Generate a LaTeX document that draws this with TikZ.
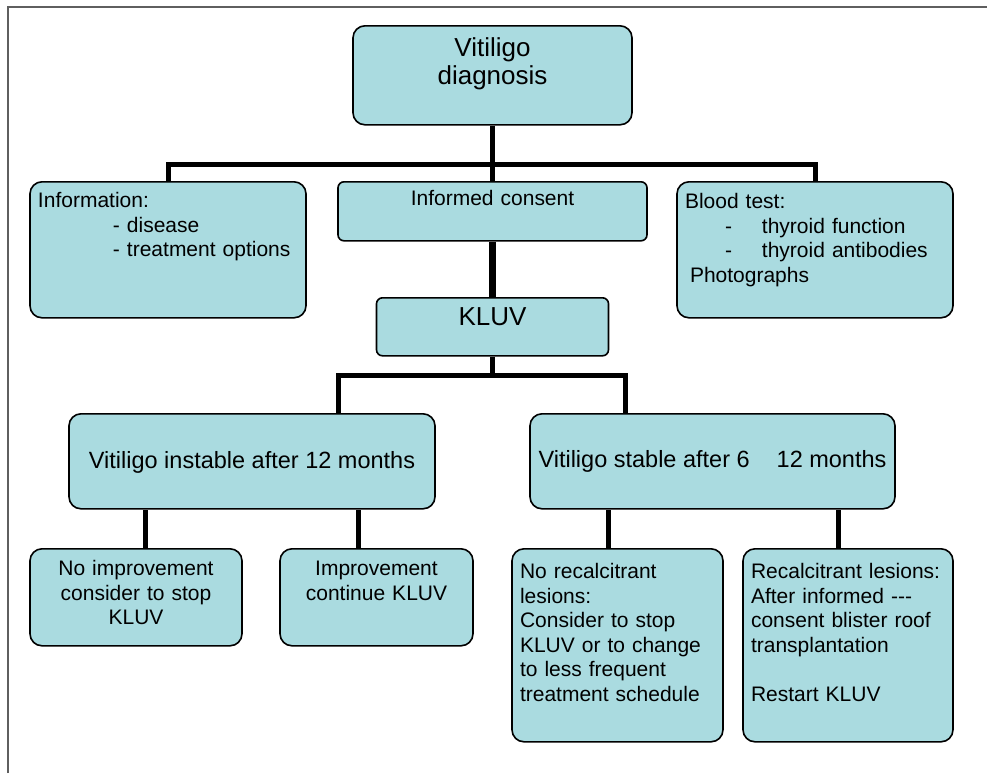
\documentclass[tikz,border=0pt]{standalone}
\usepackage{fontspec}
\setmainfont{Liberation Sans}
\usetikzlibrary{positioning, calc}
\definecolor{boxfill}{RGB}{170,219,224}
\definecolor{framegray}{RGB}{95,95,95}
\newcommand{\bigtxt}{\fontsize{13}{14}\selectfont}
\newcommand{\midtxt}{\fontsize{11.75}{13}\selectfont}
\newcommand{\smalltxt}{\fontsize{10.5}{12.25}\selectfont}
\tikzset{
  box/.style   = {draw=black, line width=0.8pt, fill=boxfill, rounded corners=6pt,
                  inner xsep=4pt, inner ysep=0pt, anchor=north, font=\smalltxt},
  sbox/.style  = {box, rounded corners=3pt},
  link/.style  = {line width=2.5pt},
  blink/.style = {line width=3.3pt},
  frame/.style = {draw=framegray, line width=1pt},
}
\begin{document}
\begin{tikzpicture}[x=0.5pt, y=-0.5pt]
  \useasboundingbox (0,0) rectangle (987,773);
  \draw[frame] (7.5,773) |- (987,6.5);

  % top level
  \node[box, font=\bigtxt, align=center, text width=131.5pt,
        text height=15.5pt, text depth=34pt] (diag) at (492.5,25) {Vitiligo\\diagnosis};
  \node[box, align=left, text width=130pt, text height=13pt, text depth=55pt] (info) at (168,181)
    {Information:\\\hspace*{37.5pt}- disease\\\hspace*{37.5pt}- treatment options};
  \node[sbox, align=center, text width=146.5pt, text height=12pt, text depth=17.5pt] (consent)
    at (492.5,181) {Informed consent};
  \node[box, align=left, text width=130pt, text height=13.5pt, text depth=54.5pt] (blood) at (815,181)
    {Blood test:\\
     \hspace*{20pt}\makebox[18.5pt][l]{-}thyroid function\\
     \hspace*{20pt}\makebox[18.5pt][l]{-}thyroid antibodies\\
     \hspace*{2.5pt}Photographs};
  \node[sbox, font=\bigtxt, align=center, text width=108pt, text height=14pt, text depth=15pt] (kluv)
    at (492.5,297) {KLUV};

  % after the first year
  \node[box, font=\midtxt, minimum width=183pt, text height=27.5pt, text depth=20pt]
    (instable) at (252,413) {Vitiligo instable after 12 months};
  \node[box, font=\midtxt, minimum width=182.5pt, text height=27pt, text depth=20.5pt]
    (stable) at (712.5,413) {Vitiligo stable after 6\hspace{13.5pt}12 months};

  \node[box, align=center, text width=98pt, text height=13.5pt, text depth=35pt] (noimp) at (136,548)
    {No improvement\\consider to stop\\KLUV};
  \node[box, align=center, text width=88.5pt, text height=13.5pt, text depth=35pt] (imp) at (376.5,548)
    {Improvement\\continue KLUV};
  \node[box, align=left, text width=97.5pt, text height=15pt, text depth=81.5pt] (norecal) at (617.5,548)
    {No recalcitrant\\lesions:\\Consider to stop\\KLUV or to change\\to less frequent\\treatment schedule};
  \node[box, align=left, text width=97pt, text height=15pt, text depth=81.5pt] (recal) at (848,548)
    {Recalcitrant lesions:\\After informed -{}-{}-\\consent blister roof\\transplantation\\[12.25pt]Restart KLUV};

  % connectors
  \coordinate (split1) at ([yshift=-19.5pt]diag.south);
  \coordinate (split2) at ([yshift=-9.5pt]kluv.south);
  \draw[link] (diag.south) -- (consent.north);
  \draw[link] (info.north) |- (split1) -| (blood.north);
  \draw[blink] (consent.south) -- (kluv.north);
  \draw[link] (kluv.south) -- (split2) -| ([xshift=43pt]instable.north);
  \draw[link] (split2) -| ([xshift=-43.75pt]stable.north);
  \foreach \kid/\up/\dx in {noimp/instable/4.5pt, imp/instable/-9.25pt,
                            norecal/stable/-4.75pt, recal/stable/-5pt}
    \draw[link] ([xshift=\dx]\kid.north) -- ([xshift=\dx]\kid.north |- \up.south);
\end{tikzpicture}
\end{document}
